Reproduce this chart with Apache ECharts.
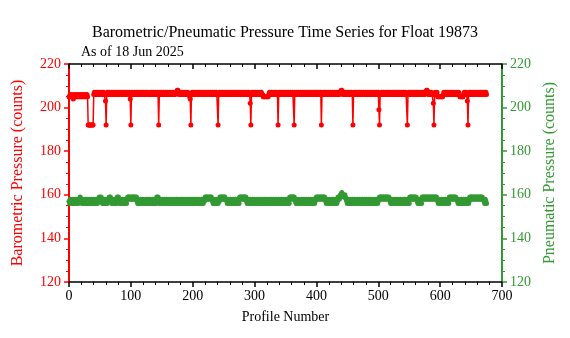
<!DOCTYPE html>
<html>
<head>
<meta charset="utf-8">
<script src="https://cdn.jsdelivr.net/npm/echarts@6/dist/echarts.min.js"></script>
<style>
html,body{margin:0;padding:0;background:#fff;}
#chart{width:570px;height:338px;}
</style>
</head>
<body>
<div id="chart"></div>
<script>
// ---- Data (profile number = index starting at 0) ----
const titleText = 'Barometric/Pneumatic Pressure Time Series for Float 19873';
const subtitleText = 'As of 18 Jun 2025';
const xTicks = [0, 100, 200, 300, 400, 500, 600, 700];
const yTicks = [120, 140, 160, 180, 200, 220];
const firstProfile = 0;

const barometric = [
 205,205,206,205,205,206,205,204,205,206,205,205,206,205,205,206,205,205,206,205,205,206,205,205,206,205,
 205,206,205,206,205,192,192,192,192,192,192,192,192,192,206,207,206,206,207,206,206,207,206,206,207,206,
 206,207,206,206,207,206,206,203,192,206,207,206,206,207,206,206,207,206,206,207,206,206,207,206,206,207,
 206,206,207,206,206,207,206,206,207,206,206,207,206,206,207,206,206,207,206,206,207,204,192,206,207,206,
 206,206,207,206,206,207,206,206,207,206,206,207,206,206,207,206,206,207,206,206,207,206,206,207,206,206,
 206,207,206,206,207,206,206,207,206,206,207,206,206,207,206,192,206,207,206,206,207,206,206,207,206,206,
 207,206,206,207,206,206,207,206,206,207,206,206,207,206,206,207,206,207,207,208,208,207,206,206,207,206,
 206,207,206,206,207,206,206,207,206,206,207,206,206,205,204,192,206,207,206,206,207,206,206,207,206,206,
 207,206,206,207,206,206,207,206,206,207,206,206,207,206,206,207,206,206,207,206,206,207,206,206,207,206,
 206,207,206,206,207,206,206,192,206,207,206,206,207,206,206,207,206,206,207,206,206,207,206,206,207,206,
 206,207,206,206,207,206,206,207,206,206,207,206,206,207,206,206,207,206,206,207,206,206,207,206,206,207,
 206,206,207,206,206,207,206,202,192,206,207,206,206,207,206,206,207,206,206,207,206,206,207,206,206,207,
 206,206,205,205,205,205,205,205,205,205,205,206,207,206,206,207,206,206,207,206,206,207,206,206,207,206,
 192,206,207,206,206,207,206,206,207,206,206,207,206,206,207,206,206,207,206,206,207,206,206,207,206,206,
 192,207,206,206,207,206,206,207,206,206,207,206,206,207,206,206,207,206,206,207,206,206,207,206,206,207,
 206,206,207,206,206,207,206,206,207,206,206,207,206,206,207,206,206,207,192,206,206,207,206,206,207,206,
 206,207,206,206,207,206,206,207,206,206,207,206,206,207,206,206,207,206,206,207,206,206,207,207,208,208,
 207,206,206,207,206,206,207,206,206,207,206,206,207,206,206,207,206,192,206,207,206,206,207,206,206,207,
 206,206,207,206,206,207,206,206,207,206,206,207,206,206,207,206,206,207,206,206,207,206,206,207,206,206,
 207,206,206,207,206,206,207,199,192,206,206,207,206,206,207,206,206,207,206,206,207,206,206,207,206,206,
 207,206,206,207,206,206,207,206,206,207,206,206,207,206,206,207,206,206,207,206,206,207,206,206,207,206,
 206,192,206,207,206,206,207,206,206,207,206,206,207,206,206,207,206,206,207,206,206,207,206,206,207,206,
 206,207,206,206,207,207,208,208,207,206,206,207,206,206,207,206,206,202,192,206,207,206,206,207,205,205,
 205,205,205,205,205,205,205,206,207,206,206,207,206,206,207,206,206,207,206,206,207,206,206,207,206,206,
 207,206,206,207,206,206,207,206,205,205,205,205,205,205,206,207,206,206,207,206,203,192,206,207,206,206,
 207,206,206,207,206,206,207,206,206,207,206,206,207,206,206,207,206,206,207,206,206,207,206,206,207,206
];

const pneumatic = [
 157,156,158,157,156,157,158,156,157,156,158,157,156,158,157,156,157,158,159,158,157,156,158,157,156,157,
 158,156,157,158,156,157,156,158,157,156,158,157,156,157,158,156,157,156,158,157,156,158,157,159,158,157,
 159,158,156,157,158,156,157,156,158,157,156,158,157,159,158,159,157,156,158,157,156,157,158,156,157,156,
 159,158,159,157,156,158,157,156,157,158,156,157,156,158,157,156,158,159,159,158,159,158,159,158,159,158,
 159,159,158,159,158,159,157,156,158,157,156,157,158,156,157,156,158,157,156,157,158,156,157,156,158,157,
 156,158,157,156,157,158,156,157,156,158,157,156,159,158,159,157,156,158,157,156,157,158,156,157,156,158,
 157,156,158,157,156,157,158,156,157,156,158,157,156,157,158,156,157,156,158,157,156,158,157,156,157,158,
 156,157,158,156,157,156,158,157,156,157,158,156,157,156,158,157,156,158,157,156,157,158,156,157,156,158,
 157,156,158,157,156,157,158,156,157,156,158,157,159,158,159,159,158,159,158,159,159,158,159,158,157,156,
 158,157,156,157,158,156,157,156,158,157,159,158,159,159,158,159,158,159,159,158,158,157,156,158,157,156,
 157,158,156,157,156,158,157,156,157,158,156,157,156,158,157,156,159,158,159,159,158,159,158,159,159,158,
 159,157,156,158,157,156,157,158,156,157,156,158,157,156,158,157,156,157,158,156,157,156,158,157,156,157,
 158,156,157,156,158,157,156,157,158,156,157,156,158,157,156,158,157,156,157,158,156,157,156,158,157,156,
 157,158,156,157,156,158,157,156,157,158,156,157,156,158,157,156,158,157,156,159,158,159,159,158,159,159,
 159,158,157,156,158,157,156,157,158,156,157,156,158,157,156,157,158,156,157,156,158,157,156,158,157,156,
 157,158,156,157,156,158,157,156,157,158,159,158,159,159,158,159,158,159,159,158,159,158,159,159,158,157,
 156,158,157,156,157,158,156,157,156,158,157,156,158,157,156,157,158,156,157,159,159,158,159,160,160,161,
 160,160,159,159,160,159,158,157,156,158,157,156,157,158,156,157,156,158,157,156,158,157,156,157,158,156,
 157,156,158,157,156,157,158,156,157,156,158,157,156,158,157,156,157,158,156,157,156,158,157,156,157,158,
 156,157,156,158,157,156,157,158,159,158,159,159,158,159,159,158,159,158,159,159,158,159,158,159,158,157,
 156,158,157,156,157,158,156,157,156,158,157,156,158,157,156,157,158,156,157,156,158,157,156,158,157,156,
 157,158,156,157,156,159,158,159,159,158,159,158,159,159,158,159,158,157,156,158,157,156,157,158,156,159,
 158,159,159,158,159,158,159,159,158,159,158,159,159,158,159,158,159,159,158,159,158,159,159,158,157,156,
 158,157,156,157,158,156,157,156,158,157,156,158,157,156,157,158,156,159,158,159,159,158,159,158,159,159,
 158,159,158,158,157,156,158,157,156,157,158,156,157,156,158,157,156,158,157,156,157,158,156,157,159,158,
 159,159,158,159,158,159,159,158,159,158,159,159,158,159,158,159,159,158,159,158,158,157,156,158,157,156
];

// ---- Chart ----
const RED = '#ff0000';
const GREEN = '#339933';
const FONT = 'Liberation Serif';

const baroData = barometric.map((v, i) => [firstProfile + i, v]);
const pneuData = pneumatic.map((v, i) => [firstProfile + i, v]);

const chart = echarts.init(document.getElementById('chart'), null, {renderer: 'canvas'});

const xCommon = {
  type: 'value',
  min: xTicks[0],
  max: xTicks[xTicks.length - 1],
  interval: xTicks[1] - xTicks[0],
  splitLine: {show: false},
  axisLine: {show: true, onZero: false, lineStyle: {color: '#000', width: 1.5}},
  minorTick: {show: true, splitNumber: 5, length: 3, lineStyle: {color: '#000', width: 1}},
  minorSplitLine: {show: false}
};

const yCommon = (color, pos) => ({
  type: 'value',
  position: pos,
  min: yTicks[0],
  max: yTicks[yTicks.length - 1],
  interval: yTicks[1] - yTicks[0],
  splitLine: {show: false},
  axisLine: {show: true, onZero: false, lineStyle: {color: color, width: 2}},
  axisTick: {show: true, inside: false, length: 5, lineStyle: {color: color, width: 1.5}},
  minorTick: {show: true, splitNumber: 4, length: 3, lineStyle: {color: color, width: 1}},
  axisLabel: {color: color, fontFamily: FONT, fontSize: 14, margin: 8},
  nameLocation: 'middle',
  nameTextStyle: {color: color, fontFamily: FONT, fontSize: 16}
});

chart.setOption({
  animation: false,
  backgroundColor: '#fff',
  title: [
    {text: titleText, left: 'center', top: 20,
     textStyle: {fontFamily: FONT, fontSize: 16, fontWeight: 'normal', color: '#000'}},
    {text: subtitleText, left: 76, top: 40,
     textStyle: {fontFamily: FONT, fontSize: 14, fontWeight: 'normal', color: '#000'}}
  ],
  grid: {left: 69, right: 68, top: 64, bottom: 56, containLabel: false},
  xAxis: [
    Object.assign({}, xCommon, {
      position: 'bottom',
      axisTick: {show: true, inside: false, length: 5, lineStyle: {color: '#000', width: 1.5}},
      axisLabel: {color: '#000', fontFamily: FONT, fontSize: 14, margin: 7},
      name: 'Profile Number', nameLocation: 'middle', nameGap: 28,
      nameTextStyle: {color: '#000', fontFamily: FONT, fontSize: 14}
    }),
    Object.assign({}, xCommon, {
      position: 'top',
      axisTick: {show: true, inside: true, length: 5, lineStyle: {color: '#000', width: 1.5}},
      axisLabel: {show: false}
    })
  ],
  yAxis: [
    Object.assign(yCommon(RED, 'left'), {name: 'Barometric Pressure (counts)', nameGap: 43}),
    Object.assign(yCommon(GREEN, 'right'), {name: 'Pneumatic Pressure (counts)', nameGap: 38})
  ],
  series: [
    {
      type: 'line', name: 'Pneumatic', xAxisIndex: 0, yAxisIndex: 1,
      data: pneuData, showSymbol: true, symbol: 'circle', symbolSize: 5,
      itemStyle: {color: GREEN}, lineStyle: {color: GREEN, width: 1.5}
    },
    {
      type: 'line', name: 'Barometric', xAxisIndex: 0, yAxisIndex: 0,
      data: baroData, showSymbol: true, symbol: 'circle', symbolSize: 5,
      itemStyle: {color: RED}, lineStyle: {color: RED, width: 1.5}
    }
  ]
});
</script>
</body>
</html>
